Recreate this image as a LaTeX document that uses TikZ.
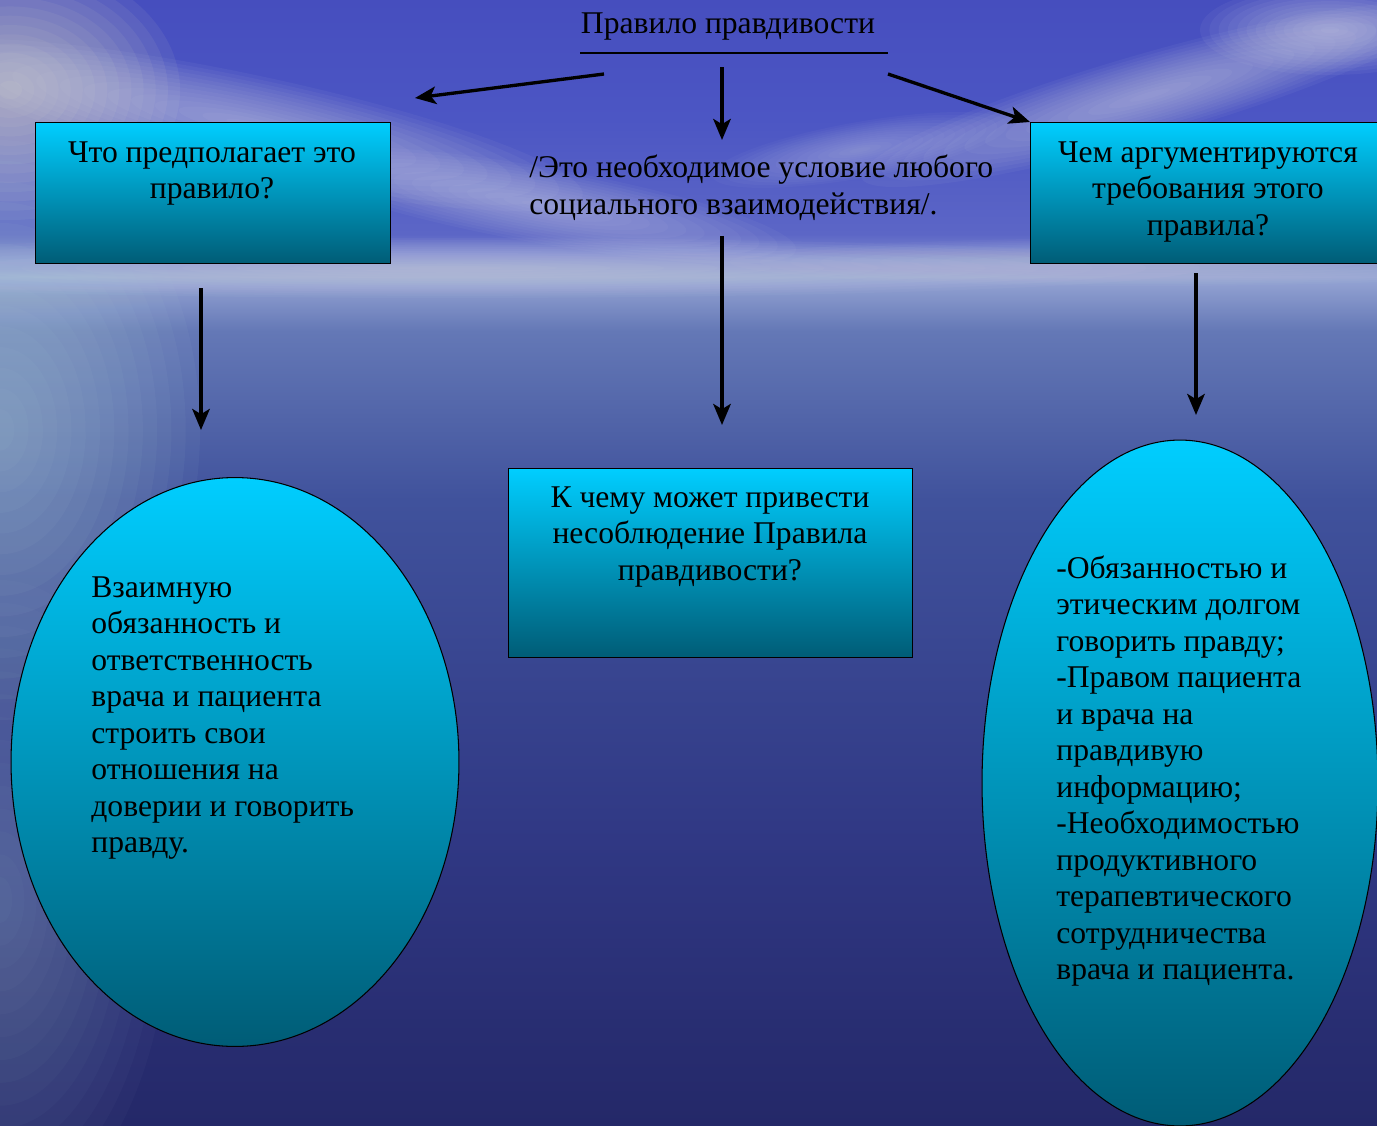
\documentclass[tikz,border=0pt]{standalone}
\usepackage{fontspec}
\setmainfont{Liberation Serif}
\usetikzlibrary{shapes.geometric,arrows.meta}
\definecolor{bgA}{RGB}{36,40,104}
\definecolor{bgB}{RGB}{48,56,132}
\definecolor{bgC}{RGB}{64,82,156}
\definecolor{bgD}{RGB}{100,120,182}
\definecolor{bgE}{RGB}{150,165,212}
\definecolor{bgF}{RGB}{92,102,198}
\definecolor{bgG}{RGB}{76,86,196}
\definecolor{bgH}{RGB}{70,78,190}
\definecolor{cyantop}{RGB}{0,206,255}
\definecolor{tealbot}{RGB}{0,92,118}
\definecolor{glow}{RGB}{170,200,215}
\definecolor{cloudc}{RGB}{220,222,235}
\definecolor{warm}{RGB}{228,224,205}
% TikZ maps the band 25bp--75bp of the shading onto the path
\pgfdeclareverticalshading{bgshade}{100bp}{color(0bp)=(bgA); color(25bp)=(bgA); color(37.7bp)=(bgB); color(52.8bp)=(bgC); color(60.3bp)=(bgD); color(62.7bp)=(bgE); color(64.6bp)=(bgF); color(69.7bp)=(bgG); color(75bp)=(bgH); color(100bp)=(bgH)}
% soft cloud: colour, x, y, rx, ry, angle, opacity per layer
\newcommand\softcloud[7]{%
  \foreach \k in {1,...,14}{%
    \fill[#1, opacity=#7, rotate around={#6:(#2,#3)}] (#2,#3) ellipse [x radius={#4*\k/14}, y radius={#5*\k/14}];
  }}
\tikzset{
  arr/.style={-{Stealth[length=12pt,width=10pt,inset=3pt]}, line width=1.9pt, draw=black},
  boxshape/.style={rectangle, draw=black, line width=0.6pt, top color=cyantop, bottom color=tealbot, inner sep=0pt, anchor=north west},
  ovalshape/.style={ellipse, draw=black, line width=0.6pt, top color=cyantop, bottom color=tealbot, inner sep=0pt},
  lbl/.style={inner sep=0pt, text=black, font=\fontsize{18}{20.8}\selectfont, execute at begin node=\strut},
}
\begin{document}
\begin{tikzpicture}[x=0.02cm,y=-0.02cm]
\useasboundingbox (0,0) rectangle (1377,1126);
% background
\shade[shading=bgshade] (0,0) rectangle (1377,1126);
\begin{scope}
\clip (0,0) rectangle (1377,1126);
\softcloud{warm}{10}{90}{170}{130}{0}{0.07}
\softcloud{cloudc}{250}{125}{340}{50}{-12}{0.05}
\softcloud{cloudc}{540}{205}{260}{38}{-10}{0.045}
\softcloud{cloudc}{1150}{95}{300}{42}{16}{0.05}
\softcloud{cloudc}{1330}{30}{130}{45}{0}{0.055}
\softcloud{cloudc}{860}{150}{150}{28}{10}{0.035}
\softcloud{cloudc}{450}{268}{750}{30}{0}{0.045}
\softcloud{cloudc}{1150}{262}{420}{24}{0}{0.035}
\softcloud{glow}{0}{430}{200}{290}{0}{0.06}
\softcloud{glow}{0}{900}{170}{320}{0}{0.03}
\end{scope}
% title
\node[lbl] (title) at (728,8) [anchor=north] {Правило правдивости};
\draw[line width=0.6pt] (580,53) -- (888,53);
% top boxes
\node[boxshape, minimum width=7.1cm, minimum height=2.82cm] (box1) at (35,122) {};
\node[lbl, align=center, anchor=north] (box1t) at (212,141) {Что предполагает это\\правило?};
\node[boxshape, minimum width=7.0cm, minimum height=2.82cm] (box3) at (1030,122) {};
\node[lbl, align=center, anchor=north] (box3t) at (1208,141) {Чем аргументируются\\требования этого\\правила?};
\node[lbl, align=left, anchor=north west] (mid) at (529,155) {/Это необходимое условие любого\\социального взаимодействия/.};
\node[boxshape, minimum width=8.08cm, minimum height=3.78cm] (box2) at (508,468) {};
\node[lbl, align=center, anchor=north] (box2t) at (710,486) {К чему может привести\\несоблюдение Правила\\правдивости?};
% ellipses
\node[ovalshape, minimum width=8.96cm, minimum height=11.38cm] (ell1) at (235,762) {};
\node[lbl, align=left, anchor=north west] (ell1t) at (91,576) {Взаимную\\обязанность и\\ответственность\\врача и пациента\\строить свои\\отношения на\\доверии и говорить\\правду.};
\node[ovalshape, minimum width=7.92cm, minimum height=13.72cm] (ell2) at (1180,783) {};
\node[lbl, align=left, anchor=north west] (ell2t) at (1056,555) {-Обязанностью и\\этическим долгом\\говорить правду;\\-Правом пациента\\и врача на\\правдивую\\информацию;\\-Необходимостью\\продуктивного\\терапевтического\\сотрудничества\\врача и пациента.};
% connectors
\coordinate (s1) at (604,74); \coordinate (e1) at (415,98);
\coordinate (s2) at (722,67); \coordinate (e2) at (722,140);
\coordinate (s3) at (888,74);
\coordinate (s4) at (201,288); \coordinate (e4) at (201,430);
\coordinate (s5) at (722,236); \coordinate (e5) at (722,425);
\coordinate (s6) at (1196,273); \coordinate (e6) at (1196,415);
\draw[arr] (s1) -- (e1);
\draw[arr] (s2) -- (e2);
\draw[arr] (s3) -- (box3.north west);
\draw[arr] (s4) -- (e4);
\draw[arr] (s5) -- (e5);
\draw[arr] (s6) -- (e6);
\end{tikzpicture}
\end{document}
